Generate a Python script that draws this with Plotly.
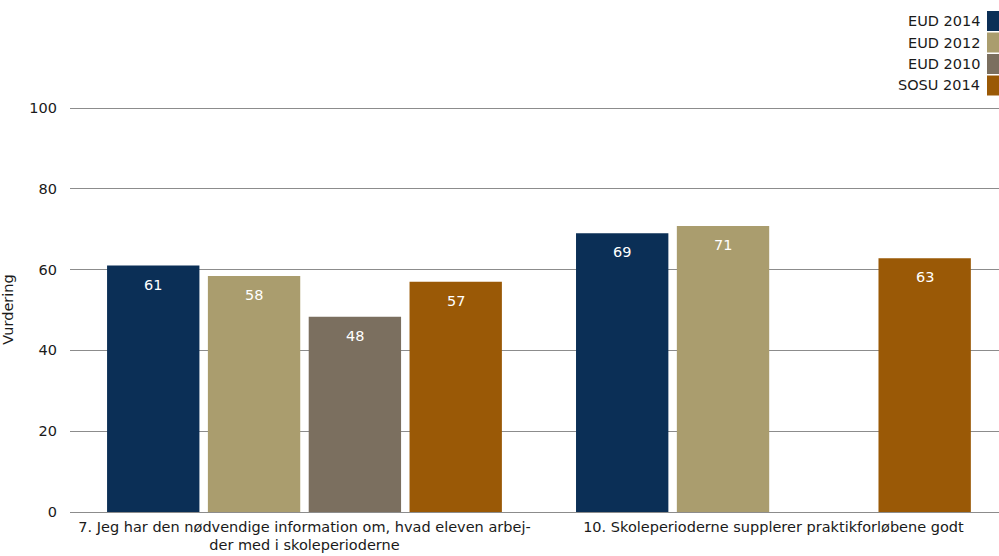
import plotly.graph_objects as go

# Spørgsmål (kategorier på x-aksen)
categories = [
    "7. Jeg har den nødvendige information om, hvad eleven arbej-<br>der med i skoleperioderne",
    "10. Skoleperioderne supplerer praktikforløbene godt",
]

series_names = ["EUD 2014", "EUD 2012", "EUD 2010", "SOSU 2014"]
eud_2014 = [61.0, 69.0]
eud_2012 = [58.4, 70.8]
eud_2010 = [48.3, None]
sosu_2014 = [57.0, 62.8]
series_values = [eud_2014, eud_2012, eud_2010, sosu_2014]
colors = ["#0B2F56", "#AA9D6E", "#7B6F5F", "#9A5906"]

y_ticks = [0, 20, 40, 60, 80, 100]

FONT = "DejaVu Sans"
W, H = 999, 556
ML, MT, MB = 70, 107, 44
X_RANGE = [-0.5, 1.481]
Y_RANGE = [0, 100.25]
BARGAP = 0.14
px_per_cat = (W - ML) / (X_RANGE[1] - X_RANGE[0])
slot_px = px_per_cat * (1 - BARGAP) / len(series_names)

fig = go.Figure()
for i, (name, vals, col) in enumerate(zip(series_names, series_values, colors)):
    fig.add_trace(go.Bar(
        x=categories,
        y=vals,
        name=name,
        marker=dict(color=col, line=dict(width=0)),
        showlegend=False,
    ))
    # Værdietiket i toppen af søjlen
    xshift = (i - (len(series_names) - 1) / 2) * slot_px
    for cat, v in zip(categories, vals):
        if v is None:
            continue
        fig.add_annotation(x=cat, y=v, text=f"{v:.0f}", showarrow=False,
                           xshift=xshift, yshift=-19, yanchor="middle",
                           font=dict(color="white", size=14.5, family=FONT))

# Forklaring i øverste højre hjørne: tekst til venstre for farvefeltet
plot_w = W - ML
plot_h = H - MT - MB
for i, (name, col) in enumerate(zip(series_names, colors)):
    yc = 21 + i * 21.5
    fig.add_shape(type="rect", xref="paper", yref="paper",
                  x0=1 - 12 / plot_w, x1=1.0,
                  y0=1 + (MT - yc - 10) / plot_h, y1=1 + (MT - yc + 10) / plot_h,
                  fillcolor=col, line=dict(width=0))
    fig.add_annotation(xref="paper", yref="paper", x=1 - 17 / plot_w,
                       y=1 + (MT - yc) / plot_h, text=name, showarrow=False,
                       xanchor="right", yanchor="middle",
                       font=dict(family=FONT, size=14.5, color="#1a1a1a"))

fig.update_layout(
    width=W, height=H,
    margin=dict(l=ML, r=0, t=MT, b=MB),
    paper_bgcolor="white", plot_bgcolor="white",
    barmode="group", bargap=BARGAP, bargroupgap=0.084,
    font=dict(family=FONT, size=14.5, color="#1a1a1a"),
    yaxis=dict(
        range=Y_RANGE, tickvals=y_ticks,
        showgrid=True, gridcolor="#8c8c8c", gridwidth=1,
        zeroline=True, zerolinecolor="#8c8c8c", zerolinewidth=1,
        ticks="", ticklabelstandoff=12,
        title=dict(text="Vurdering", font=dict(size=14.5, family=FONT), standoff=20),
        tickfont=dict(size=14.5, family=FONT),
    ),
    xaxis=dict(
        range=X_RANGE, showline=False, ticks="", ticklabelstandoff=4,
        tickfont=dict(size=14.5, family=FONT),
    ),
)

fig.write_html("out.html")
